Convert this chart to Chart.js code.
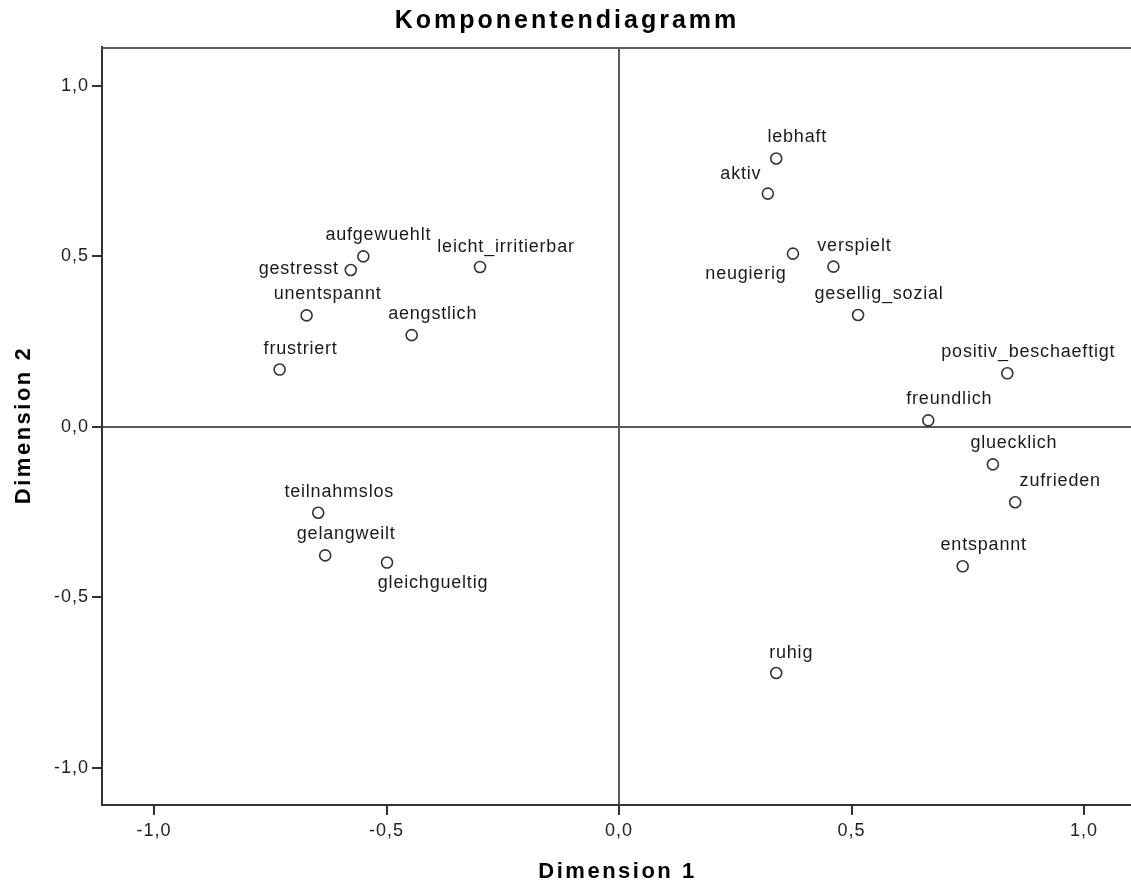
<!DOCTYPE html>
<html>
<head>
<meta charset="utf-8">
<title>Komponentendiagramm</title>
<script src="https://cdn.jsdelivr.net/npm/chart.js@4.4.1/dist/chart.umd.min.js"></script>
<style>
	html, body { margin: 0; padding: 0; background: #fff; }
	#mycanvas { display: block; }
</style>
</head>
<body>
<canvas id="mycanvas" width="1131" height="886"></canvas>
<script>
// component loadings
var names = ['lebhaft', 'aktiv', 'neugierig', 'verspielt', 'gesellig_sozial', 'positiv_beschaeftigt',
	'freundlich', 'gluecklich', 'zufrieden', 'entspannt', 'ruhig',
	'aufgewuehlt', 'gestresst', 'leicht_irritierbar', 'unentspannt', 'aengstlich', 'frustriert',
	'teilnahmslos', 'gelangweilt', 'gleichgueltig'];
var dim1 = [0.338, 0.320, 0.374, 0.461, 0.514, 0.835,
	0.665, 0.804, 0.852, 0.739, 0.338,
	-0.550, -0.577, -0.299, -0.672, -0.446, -0.730,
	-0.647, -0.632, -0.499];
var dim2 = [0.787, 0.684, 0.508, 0.470, 0.328, 0.157,
	0.019, -0.110, -0.221, -0.409, -0.722,
	0.500, 0.460, 0.469, 0.327, 0.269, 0.168,
	-0.252, -0.377, -0.398];
var tickValues = [-1, -0.5, 0, 0.5, 1];
var xRange = [-1.112, 1.101];
var yRange = [-1.109, 1.114];

var FONT = '"Liberation Sans", Arial, sans-serif';

// where each label sits relative to its point (default above right)
var labelShift = {
	'aktiv': [-27, -20],
	'neugierig': [-47, 20],
	'gestresst': [-52, -1],
	'zufrieden': [45, -21],
	'gleichgueltig': [46, 20],
	'aufgewuehlt': [15, -21],
	'leicht_irritierbar': [26, -20],
	'ruhig': [15, -20]
};

function fmt(v) {
	return v.toFixed(1).replace('.', ',');
}

var points = [];
for (var i in names) {
	points.push({x: dim1[i], y: dim2[i]});
}

var spssText = {
	id: 'spssText',
	beforeDraw: function(chart) {
		// a little extra spacing for the tick labels, like the SPSS output
		chart.ctx.letterSpacing = '1px';
	},
	beforeDatasetsDraw: function(chart) {
		var ctx = chart.ctx, a = chart.chartArea;
		ctx.save();
		ctx.strokeStyle = '#5a5a5a';
		ctx.lineWidth = 2;
		ctx.beginPath();
		ctx.moveTo(a.left, a.top + 1);
		ctx.lineTo(a.right, a.top + 1);
		ctx.stroke();
		ctx.restore();
	},
	afterDatasetsDraw: function(chart) {
		var ctx = chart.ctx;
		var meta = chart.getDatasetMeta(0);
		ctx.save();
		ctx.font = '18px ' + FONT;
		ctx.letterSpacing = '0.8px';
		ctx.fillStyle = '#1a1a1a';
		ctx.textAlign = 'center';
		ctx.textBaseline = 'middle';
		meta.data.forEach(function(pt, i) {
			var off = labelShift[names[i]] || [21, -21];
			ctx.fillText(names[i], pt.x + off[0], pt.y + off[1]);
		});
		ctx.restore();
	},
	afterDraw: function(chart) {
		var ctx = chart.ctx, a = chart.chartArea;
		ctx.save();
		ctx.fillStyle = '#000';
		ctx.textAlign = 'center';
		ctx.textBaseline = 'middle';
		ctx.font = 'bold 25px ' + FONT;
		ctx.letterSpacing = '3px';
		ctx.fillText('Komponentendiagramm', chart.width / 2 + 1.5, 21);
		ctx.font = 'bold 22px ' + FONT;
		ctx.letterSpacing = '2.5px';
		ctx.fillText('Dimension 1', (a.left + a.right) / 2 + 1, chart.height - 14);
		ctx.translate(24, (a.top + a.bottom) / 2);
		ctx.rotate(-Math.PI / 2);
		ctx.fillText('Dimension 2', 1, 0);
		ctx.restore();
	}
};

function zeroLine(c) {
	return c.tick && c.tick.value === 0 ? '#5a5a5a' : 'rgba(0,0,0,0)';
}

function setTicks(scale) {
	scale.ticks = tickValues.map(function(v) { return {value: v}; });
}

var ctx = document.getElementById('mycanvas');

var scatter = new Chart(ctx, {
	type: 'scatter',
	data: {
		datasets: [
			{
				label: 'Komponenten',
				data: points,
				pointRadius: 5.5,
				pointBorderWidth: 1.6,
				pointBorderColor: '#333',
				pointBackgroundColor: '#fff'
			}
		]
	},
	options: {
		responsive: false,
		animation: false,
		devicePixelRatio: 1,
		events: [],
		layout: { autoPadding: false, padding: { top: 47, left: 0, right: 0, bottom: 0 } },
		plugins: {
			legend: { display: false },
			tooltip: { enabled: false },
			title: { display: false }
		},
		scales: {
			x: {
				type: 'linear',
				min: xRange[0],
				max: xRange[1],
				afterBuildTicks: setTicks,
				afterFit: function(s) { s.height = 81; },
				grid: { color: zeroLine, lineWidth: 2, tickColor: '#333', tickWidth: 2, tickLength: 10 },
				border: { color: '#333', width: 2 },
				ticks: { color: '#222', font: { family: FONT, size: 18 }, padding: 5, maxRotation: 0, autoSkip: false, callback: fmt }
			},
			y: {
				type: 'linear',
				min: yRange[0],
				max: yRange[1],
				afterBuildTicks: setTicks,
				afterFit: function(s) { s.width = 102; },
				grid: { color: zeroLine, lineWidth: 2, tickColor: '#333', tickWidth: 2, tickLength: 10 },
				border: { color: '#333', width: 2 },
				ticks: { color: '#222', font: { family: FONT, size: 18 }, padding: 3, autoSkip: false, callback: fmt }
			}
		}
	},
	plugins: [spssText]
});
</script>
</body>
</html>
